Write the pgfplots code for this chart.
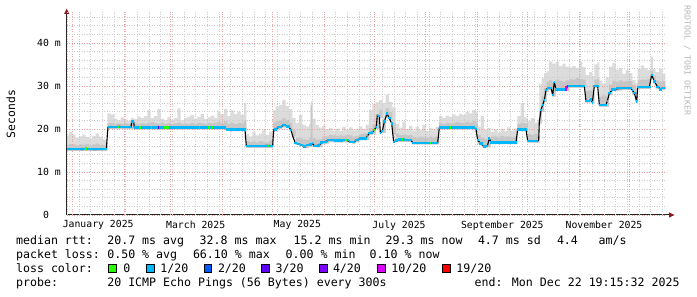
\documentclass[border=0pt]{standalone}
\usepackage{fontspec}
\usepackage{pgfplots}
\pgfplotsset{compat=1.18}
\usepackage{pgfplotstable}
\usepgfplotslibrary{fillbetween}
\newfontfamily\mono{DejaVu Sans Mono}
\definecolor{lossA}{HTML}{26FF00}
\definecolor{lossB}{HTML}{00B8FF}
\definecolor{lossC}{HTML}{0059FF}
\definecolor{lossD}{HTML}{5E00FF}
\definecolor{lossE}{HTML}{7E00FF}
\definecolor{lossF}{HTML}{DD00FF}
\definecolor{lossG}{HTML}{FF0000}
\definecolor{smokeA}{HTML}{DCDCDC}
\definecolor{smokeB}{HTML}{C6C6C6}
\definecolor{mgrid}{HTML}{EBA0A0}
\definecolor{ngrid}{HTML}{CCCCCC}
\definecolor{arrowred}{HTML}{8B1A1A}
\definecolor{credit}{HTML}{B8B8B8}

% smoke: day, low edge, max edge, inner (darker) edge
\pgfplotstableread{
x lo hi hi2
-3.5 14.9 18.5 16.3
-2 14.9 19.3 16.5
0 14.9 18.6 16.4
2 14.9 17.9 16.2
4 14.9 18.3 16.4
6 14.9 18.7 16.3
8 14.9 18.1 16.5
10 14.9 17.8 16.2
12 14.9 18.4 16.4
14 14.9 19.0 16.6
16 14.9 18.2 16.3
18 14.9 17.6 16.2
20 14.9 17.4 16.3
21 20.0 23.6 21.3
23 20.0 23.4 21.4
25 20.0 22.4 21.2
27 20.0 22.0 21.3
29 20.0 22.7 21.2
31 20.0 22.2 21.4
33 20.0 21.9 21.2
35 20.0 22.5 22.0
37 19.9 22.3 21.3
39 19.9 22.9 21.1
41 19.9 22.6 21.3
43 19.9 23.0 21.2
45 19.9 24.4 21.4
47 19.9 22.5 21.6
49 19.9 23.0 21.3
51 19.9 24.7 21.2
53 19.9 22.4 21.5
55 19.9 22.1 21.2
57 19.9 22.8 21.4
59 19.9 22.2 21.2
61 19.9 22.6 21.3
63 19.9 24.8 21.5
65 19.9 22.0 21.2
67 19.9 22.5 21.3
69 19.9 22.9 21.2
71 19.9 23.3 21.4
73 19.9 22.4 21.2
75 19.9 22.8 21.5
77 19.9 23.5 21.3
79 19.9 22.3 21.2
81 19.9 22.7 21.4
83 19.9 23.1 21.3
85 19.9 22.6 21.5
87 19.9 24.1 21.6
89 19.9 23.4 21.4
91 19.9 24.6 21.8
93 19.5 23.0 21.2
95 19.5 24.3 21.5
97 19.5 23.5 21.1
99 19.5 24.0 21.4
101 19.5 23.2 21.3
103 19.5 26.0 22.0
104.4 15.6 18.8 17.2
106 15.6 18.3 17.0
108 15.6 19.3 17.1
110 15.6 18.5 16.9
112 15.6 18.9 17.2
114 15.6 19.8 17.0
116 15.6 18.6 16.9
118 15.6 19.4 17.3
120.5 19.5 24.4 21.5
122 20.0 25.2 21.8
124 20.1 25.6 22.0
126 20.4 26.7 22.5
128 20.4 25.3 22.1
130 19.8 24.6 21.5
132 18.2 22.5 19.8
134 16.3 21.4 18.0
136 16.1 23.2 17.9
138 15.7 21.0 17.6
140 15.6 20.6 17.5
142 15.9 21.2 17.8
143 15.9 26.4 25.5
144 16.2 22.4 17.9
146 15.7 20.9 17.5
148 15.8 20.3 17.6
150 16.5 20.8 18.2
152 16.6 19.9 18.3
154 17.0 20.2 18.6
156 16.9 19.6 18.5
158 16.9 20.1 18.4
160 16.9 19.5 18.5
162 16.9 20.5 18.4
164 16.9 19.8 18.6
166 16.9 20.4 18.5
168 16.6 19.7 18.2
170 16.9 20.1 18.4
172 17.4 20.6 18.8
174 17.4 20.0 18.9
176 17.4 21.0 19.0
178 18.6 24.4 20.2
180 18.8 25.8 21.0
182 20.0 26.2 22.5
184 22.5 26.7 24.5
186 19.1 26.0 22.0
188 22.5 28.0 24.8
190 22.0 26.3 24.0
192 18.6 25.0 21.5
194 17.0 21.2 18.9
196 17.0 20.3 18.6
198 17.0 21.6 18.7
200 17.0 20.0 18.5
202 17.0 20.8 18.6
204 16.4 19.6 18.1
206 16.4 20.5 18.0
208 16.4 19.8 18.2
210 16.4 20.9 18.1
212 16.4 19.5 18.0
214 16.4 20.3 18.2
216 16.4 19.7 18.0
218 16.4 20.5 18.3
220 19.9 23.0 21.4
222 19.9 22.6 21.2
224 19.9 23.1 21.5
226 19.9 22.8 21.3
228 19.9 23.4 21.4
230 19.9 23.0 21.6
232 19.9 23.5 21.5
234 19.9 23.2 21.4
236 19.9 24.0 21.7
238 19.9 23.6 21.5
240 19.9 24.4 21.8
242 19.6 24.1 21.5
243.2 16.6 20.5 18.6
245 16.2 23.0 18.0
247 15.6 19.8 17.6
249 15.7 20.2 17.8
251 16.5 19.4 18.2
253 16.5 19.9 18.3
255 16.5 19.2 18.1
257 16.5 20.0 18.4
259 16.5 19.5 18.2
261 16.5 20.4 18.3
263 16.5 19.6 18.1
265 16.5 20.1 18.2
267 19.5 23.0 21.2
269 19.5 26.0 21.5
271 19.5 22.7 21.3
273.2 16.8 21.8 18.8
275 16.8 22.6 18.6
277 16.8 21.5 18.9
279 16.8 22.2 18.7
280.2 21.3 30.5 24.0
281.5 24.0 31.8 27.5
283 26.3 33.0 29.5
284.5 28.7 33.4 31.0
286 29.1 35.7 31.3
288 27.5 35.2 30.8
290 29.1 35.6 31.5
292 28.8 34.6 31.2
294 28.8 35.2 31.0
296 28.8 34.5 31.3
298 29.6 34.3 31.6
300 29.6 34.6 31.5
302 29.6 34.2 31.8
304 29.6 35.7 31.6
306 29.6 34.4 31.5
308 26.1 32.5 28.8
310 26.2 33.2 29.0
312 26.0 32.3 28.5
313.2 29.6 35.0 31.5
315 29.6 35.5 31.7
316.2 25.2 31.2 27.5
318 25.2 30.6 27.8
320 25.2 32.0 27.6
322 27.9 34.5 30.3
324 28.8 35.3 31.2
326 28.9 33.8 31.0
328 29.0 34.2 31.3
330 29.1 32.8 31.0
332 29.1 33.6 31.2
334 29.1 33.0 31.1
336 28.0 31.4 30.2
338 26.0 30.6 28.5
339.2 29.3 33.9 31.3
341 29.3 34.8 31.5
343 29.3 34.1 31.4
345 29.3 33.7 31.6
347 31.8 36.8 33.5
348.5 30.6 34.0 32.4
350 29.4 33.2 31.3
352 29.0 34.0 31.0
354 29.1 32.9 31.2
355.8 29.1 32.9 31.2
}\smoke

% median rtt (ms) by day of 2025
\pgfplotstableread{
x y
-3.5 15.3
2 15.4
6 15.2
8 15.5
10 15.3
14 15.2
18 15.4
20.4 15.3
21.0 18.6
21.4 20.4
28 20.6
35.2 20.4
35.6 21.7
36.8 21.7
37.2 20.3
45 20.4
50 20.2
55 20.4
60 20.3
70 20.4
80 20.3
91.8 20.3
92.5 19.9
100 19.8
102 20.0
103.6 19.8
104.4 16.0
112 16.0
117 16.2
120.2 16.1
120.6 18.6
121.0 19.9
124.2 20.4
127.2 20.9
129.6 20.6
131.2 19.8
132.0 18.6
133.8 16.7
136.2 16.5
137.4 16.3
139.2 15.9
141.0 16.3
143.2 16.4
144.0 16.7
145.2 16.1
148.2 16.2
149.4 16.9
151.2 17.0
154.2 17.4
160.2 17.3
164.2 17.4
167.2 17.0
169.2 17.0
170.4 17.5
174.0 17.8
176.2 17.8
177.0 18.4
178.2 19.0
180.0 19.2
181.2 19.8
182.4 20.5
183.0 23.3
184.2 23.0
184.8 19.1
186.0 19.5
187.2 21.7
188.8 23.6
190.2 22.5
191.6 21.3
192.8 17.0
194.2 17.3
196.2 17.6
203.2 17.4
204.2 16.8
219.2 16.8
219.6 18.2
220.2 20.3
234.0 20.4
235.0 20.1
236.0 20.4
241.2 20.3
242.2 20.0
243.2 17.4
245.2 16.6
247.2 15.9
249.0 16.0
250.2 17.8
251.2 16.9
266.2 16.9
267.2 19.9
272.2 19.9
273.2 17.2
279.2 17.2
279.8 17.4
280.2 21.7
281.2 24.4
282.2 25.6
283.2 26.7
284.2 29.1
285.2 29.5
287.2 29.5
288.2 27.9
289.2 30.9
290.2 29.2
296.2 29.2
297.2 30.0
307.2 30.0
308.2 26.4
310.2 26.6
311.2 26.9
312.0 26.2
313.2 30.0
315.2 30.0
316.2 25.6
320.2 25.6
321.0 26.5
322.2 28.3
324.2 29.2
328.2 29.4
335.2 29.5
336.0 29.0
337.2 28.3
338.6 26.4
339.2 29.7
346.2 29.7
347.6 32.6
349.2 31.0
351.2 29.8
353.2 29.2
354.0 29.6
355.8 29.5
}\med

% median drawn in the 1/20 loss colour: level pieces of the median
\pgfplotstableread{
x y
-3.5 15.3
20.7 15.3
nan nan
21.2 20.4
35.4 20.4
nan nan
35.4 21.7
37.0 21.7
nan nan
37.0 20.3
92.1 20.3
nan nan
92.1 19.9
104.0 19.9
nan nan
104.0 16.0
120.4 16.0
nan nan
120.8 19.9
122.6 19.9
nan nan
122.6 20.4
125.7 20.4
nan nan
125.7 20.9
128.4 20.9
nan nan
128.4 20.6
130.4 20.6
nan nan
130.4 19.8
131.6 19.8
nan nan
132.9 16.7
135.0 16.7
nan nan
135.0 16.5
136.8 16.5
nan nan
136.8 16.3
138.3 16.3
nan nan
138.3 15.9
140.1 15.9
nan nan
140.1 16.3
142.1 16.3
nan nan
142.1 16.4
143.6 16.4
nan nan
143.6 16.7
144.6 16.7
nan nan
144.6 16.1
146.7 16.1
nan nan
146.7 16.2
148.8 16.2
nan nan
148.8 16.9
150.3 16.9
nan nan
150.3 17.0
152.7 17.0
nan nan
152.7 17.4
157.2 17.4
nan nan
157.2 17.3
162.2 17.3
nan nan
162.2 17.4
165.7 17.4
nan nan
165.7 17.0
169.8 17.0
nan nan
169.8 17.5
172.2 17.5
nan nan
172.2 17.8
176.6 17.8
nan nan
176.6 18.4
177.6 18.4
nan nan
177.6 19.0
179.1 19.0
nan nan
179.1 19.2
180.6 19.2
nan nan
180.6 19.8
181.8 19.8
nan nan
181.8 20.5
182.7 20.5
nan nan
182.7 23.3
183.6 23.3
nan nan
183.6 23.0
184.5 23.0
nan nan
184.5 19.1
185.4 19.1
nan nan
185.4 19.5
186.6 19.5
nan nan
186.6 21.7
188.0 21.7
nan nan
188.0 23.6
189.5 23.6
nan nan
189.5 22.5
190.9 22.5
nan nan
190.9 21.3
192.2 21.3
nan nan
192.2 17.0
193.5 17.0
nan nan
193.5 17.3
195.2 17.3
nan nan
195.2 17.6
199.7 17.6
nan nan
199.7 17.4
203.7 17.4
nan nan
203.7 16.8
219.4 16.8
nan nan
219.9 20.3
241.7 20.3
nan nan
241.7 20.0
242.7 20.0
nan nan
242.7 17.4
244.2 17.4
nan nan
244.2 16.6
246.2 16.6
nan nan
246.2 15.9
248.1 15.9
nan nan
248.1 16.0
249.6 16.0
nan nan
249.6 17.8
250.7 17.8
nan nan
250.7 16.9
266.7 16.9
nan nan
266.7 19.9
272.7 19.9
nan nan
272.7 17.2
279.5 17.2
nan nan
280.7 24.4
281.7 24.4
nan nan
281.7 25.6
282.7 25.6
nan nan
282.7 26.7
283.7 26.7
nan nan
283.7 29.1
284.7 29.1
nan nan
284.7 29.5
287.7 29.5
nan nan
287.7 27.9
288.7 27.9
nan nan
288.7 30.9
289.7 30.9
nan nan
289.7 29.2
296.7 29.2
nan nan
296.7 30.0
307.7 30.0
nan nan
307.7 26.5
310.7 26.5
nan nan
310.7 26.9
311.6 26.9
nan nan
311.6 26.2
312.6 26.2
nan nan
312.6 30.0
315.7 30.0
nan nan
315.7 25.6
320.6 25.6
nan nan
320.6 26.5
321.6 26.5
nan nan
321.6 28.3
323.2 28.3
nan nan
323.2 29.2
326.2 29.2
nan nan
326.2 29.5
335.6 29.5
nan nan
335.6 29.0
336.6 29.0
nan nan
336.6 28.3
337.9 28.3
nan nan
337.9 26.4
338.9 26.4
nan nan
338.9 29.7
346.9 29.7
nan nan
346.9 32.6
348.4 32.6
nan nan
348.4 31.0
350.2 31.0
nan nan
350.2 29.8
352.2 29.8
nan nan
352.2 29.2
353.6 29.2
nan nan
353.6 29.5
355.8 29.5
}\cyanmed

\newcommand\legfont{\mono\fontsize{11.6bp}{14bp}\selectfont}
\newcommand\axfont{\mono\fontsize{9.8bp}{11bp}\selectfont}

\begin{document}
\begin{tikzpicture}
\begin{axis}[
  at={(66.5bp,82bp)}, anchor=south west,
  scale only axis, width=600bp, height=203bp,
  xmin=-3.5, xmax=356.5, ymin=0, ymax=47.2,
  set layers, axis on top,
  axis line style={draw=none},
  tick style={draw=none},
  major tick length=0pt, minor tick length=0pt,
  grid=both,
  major grid style={draw=mgrid, line width=0.8bp, dash pattern=on 1bp off 1.5bp},
  minor grid style={draw=ngrid, line width=0.8bp, dash pattern=on 1bp off 1.5bp},
  xtick={0,31,59,90,120,151,181,212,243,273,304,334},
  xticklabels={},
  minor xtick={-3,4,...,354},
  extra x ticks={15.5,74,135,196,258,319},
  extra x tick labels={January 2025,March 2025,May 2025,July 2025,September 2025,November 2025},
  extra x tick style={grid=none, major tick length=0pt},
  xticklabel style={font=\axfont, anchor=north, inner sep=0pt, yshift=-5.5bp},
  ytick={0,10,20,30,40},
  yticklabels={0\hphantom{\ m},10 m,20 m,30 m,40 m},
  minor ytick={2,4,...,46},
  yticklabel style={font=\axfont, anchor=east, inner sep=0pt, xshift=-5.5bp},
  unbounded coords=jump,
]
\addplot[const plot, draw=none, name path=sHi] table[x=x, y=hi] {\smoke};
\addplot[const plot, draw=none, name path=sLo] table[x=x, y=lo] {\smoke};
\addplot[const plot, draw=none, name path=sHiB] table[x=x, y=hi2] {\smoke};
\addplot[smokeA, draw=none] fill between[of=sHi and sLo];
\addplot[smokeB, draw=none] fill between[of=sHiB and sLo];

\addplot[black, line width=1.1bp, line join=round, on layer=axis foreground] table[x=x, y=y] {\med};
\addplot[lossB, line width=2.4bp, line cap=butt, on layer=axis foreground] table[x=x, y=y] {\cyanmed};

% packets with other loss levels
\addplot[lossA, line width=2.4bp, on layer=axis foreground] coordinates {(7.5,15.5) (8.5,15.5)};
\addplot[lossA, line width=2.4bp, on layer=axis foreground] coordinates {(19.4,15.3) (20.4,15.3)};
\addplot[lossA, line width=2.4bp, on layer=axis foreground] coordinates {(27.1,20.4) (27.9,20.4)};
\addplot[lossA, line width=2.4bp, on layer=axis foreground] coordinates {(40.2,20.3) (41.2,20.3)};
\addplot[lossA, line width=2.4bp, on layer=axis foreground] coordinates {(47.0,20.3) (47.8,20.3)};
\addplot[lossD, line width=2.4bp, on layer=axis foreground] coordinates {(51.1,20.3) (51.8,20.3)};
\addplot[lossA, line width=2.4bp, on layer=axis foreground] coordinates {(55.2,20.3) (58.2,20.3)};
\addplot[lossA, line width=2.4bp, on layer=axis foreground] coordinates {(75.8,20.3) (76.8,20.3)};
\addplot[lossA, line width=2.4bp, on layer=axis foreground] coordinates {(81.4,20.3) (82.4,20.3)};
\addplot[lossA, line width=2.4bp, on layer=axis foreground] coordinates {(83.6,20.3) (84.4,20.3)};
\addplot[lossA, line width=2.4bp, on layer=axis foreground] coordinates {(117.2,16.0) (118.0,16.0)};
\addplot[lossA, line width=2.4bp, on layer=axis foreground] coordinates {(163.8,17.4) (164.6,17.4)};
\addplot[lossA, line width=2.4bp, on layer=axis foreground] coordinates {(181.0,19.8) (181.8,19.8)};
\addplot[lossA, line width=2.4bp, on layer=axis foreground] coordinates {(197.8,17.6) (198.6,17.6)};
\addplot[lossA, line width=2.4bp, on layer=axis foreground] coordinates {(214.4,16.8) (215.2,16.8)};
\addplot[lossA, line width=2.4bp, on layer=axis foreground] coordinates {(226.4,20.3) (227.2,20.3)};
\addplot[lossF, line width=1.4bp, on layer=axis foreground] coordinates {(296.3,28.9) (296.3,30.0)};
\addplot[lossG, line width=2.4bp, on layer=axis foreground] coordinates {(296.5,30.0) (297.3,30.0)};
\end{axis}

% axis lines with rrdtool arrow heads
\draw[black!85, line width=1bp] (66.7bp,82bp) -- (669.5bp,82bp);
\fill[arrowred] (669bp,84.6bp) -- (674.5bp,82bp) -- (669bp,79.4bp) -- cycle;
\draw[black!85, line width=1bp] (66.7bp,82bp) -- (66.7bp,283.5bp);
\fill[arrowred] (64.1bp,283bp) -- (66.7bp,288.3bp) -- (69.3bp,283bp) -- cycle;

% axis title and credit
\node[rotate=90, font=\mono\fontsize{11.4bp}{12bp}\selectfont, inner sep=0pt] at (10.8bp,183bp) {Seconds};
\node[rotate=-90, anchor=west, font=\mono\fontsize{8.3bp}{9bp}\selectfont, text=credit, inner sep=0pt] at (687.4bp,292bp) {RRDTOOL / TOBI OETIKER};

% legend
\begin{scope}[every node/.style={font=\legfont, anchor=base west, inner sep=0pt}]
\node at (15.9bp,52bp) {median rtt:};
\node at (107.1bp,52bp) {20.7 ms avg};
\node at (199.5bp,52bp) {32.8 ms max};
\node at (293.5bp,52bp) {15.2 ms min};
\node at (385.5bp,52bp) {29.3 ms now};
\node at (477.8bp,52bp) {4.7 ms sd};
\node at (556.8bp,52bp) {4.4};
\node at (598.5bp,52bp) {am/s};

\node at (15.9bp,38.2bp) {packet loss:};
\node at (107.1bp,38.2bp) {0.50 \% avg};
\node at (192.8bp,38.2bp) {66.10 \% max};
\node at (285.5bp,38.2bp) {0.00 \% min};
\node at (369.5bp,38.2bp) {0.10 \% now};

\node at (15.9bp,24.4bp) {loss color:};
\node at (123.1bp,24.4bp) {0};
\node at (160.2bp,24.4bp) {1/20};
\node at (217.8bp,24.4bp) {2/20};
\node at (275.5bp,24.4bp) {3/20};
\node at (332.8bp,24.4bp) {4/20};
\node at (391.2bp,24.4bp) {10/20};
\node at (456.2bp,24.4bp) {19/20};

\node at (15.9bp,10.8bp) {probe:};
\node at (107.1bp,10.8bp) {20 ICMP Echo Pings (56 Bytes) every 300s};
\node at (474.5bp,10.8bp) {end: Mon Dec 22 19:15:32 2025};
\end{scope}
\filldraw[fill=lossA, draw=black, line width=0.8bp] (108.4bp,24.3bp) rectangle (116.2bp,32.1bp);
\filldraw[fill=lossB, draw=black, line width=0.8bp] (146.4bp,24.3bp) rectangle (154.2bp,32.1bp);
\filldraw[fill=lossC, draw=black, line width=0.8bp] (203.9bp,24.3bp) rectangle (211.7bp,32.1bp);
\filldraw[fill=lossD, draw=black, line width=0.8bp] (261.4bp,24.3bp) rectangle (269.2bp,32.1bp);
\filldraw[fill=lossE, draw=black, line width=0.8bp] (319.1bp,24.3bp) rectangle (326.9bp,32.1bp);
\filldraw[fill=lossF, draw=black, line width=0.8bp] (377.1bp,24.3bp) rectangle (384.9bp,32.1bp);
\filldraw[fill=lossG, draw=black, line width=0.8bp] (442.2bp,24.3bp) rectangle (450.0bp,32.1bp);
\path (0,0) rectangle (697bp,297bp);
\end{tikzpicture}
\end{document}
